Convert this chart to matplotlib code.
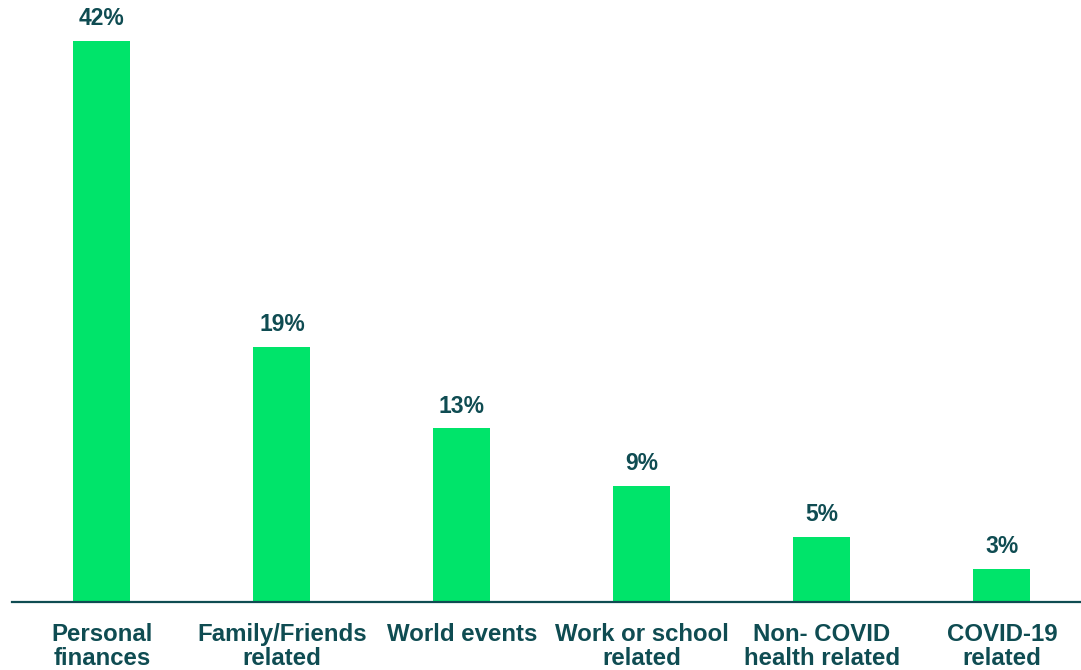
import numpy as np
from matplotlib import pyplot as plt

plt.rcParams['font.family'] = ['Liberation Sans', 'DejaVu Sans']

categories = ['Personal\nfinances', 'Family/Friends\nrelated', 'World events',
              'Work or school\nrelated', 'Non- COVID\nhealth related', 'COVID-19\nrelated']
values = [42.0, 19.1, 13.0, 8.7, 4.9, 2.5]
labels = ['42%', '19%', '13%', '9%', '5%', '3%']

green = '#00E46A'
teal = '#0F4C52'

fig = plt.figure(figsize=(10.81, 6.70), dpi=100)
# axes run slightly past the right edge like the original
ax = fig.add_axes([12 / 1081, 68 / 670, 1080 / 1081, 601 / 670])

x = np.arange(len(categories))
bars = ax.bar(x, values, width=57 / 180, color=green)

for xi, v, lab in zip(x, values, labels):
    ax.text(xi, v + 0.8, lab, ha='center', va='bottom', fontsize=16.5,
            fontweight='bold', color=teal)

ax.set_xlim(-0.5, len(categories) - 0.5)
ax.set_ylim(0, 45)
ax.set_xticks(x)
ax.set_xticklabels(categories, fontsize=17.3, fontweight='bold', color=teal,
                   linespacing=1.05)
ax.tick_params(axis='x', length=0, pad=15)
ax.set_yticks([])
for s in ['top', 'right', 'left']:
    ax.spines[s].set_visible(False)
ax.spines['bottom'].set_color(teal)
ax.spines['bottom'].set_linewidth(1.6)

fig.savefig('out.png', dpi=100)
